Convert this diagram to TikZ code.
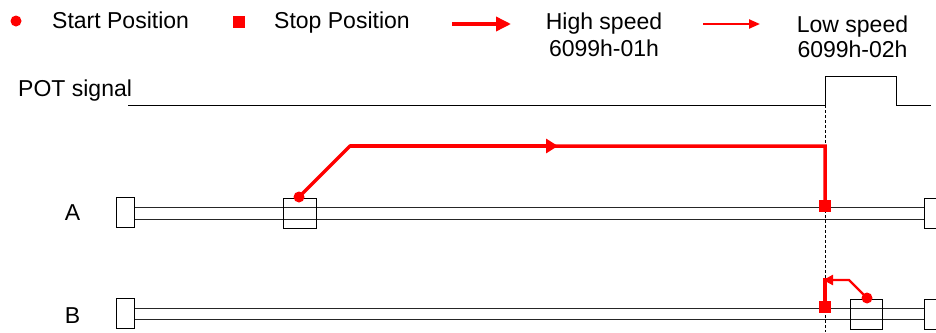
\documentclass[tikz,border=0pt]{standalone}
\usepackage{fontspec}
\setmainfont{Liberation Sans}
\usetikzlibrary{arrows.meta}
\definecolor{myred}{RGB}{255,0,0}
\begin{document}
\begin{tikzpicture}[x=1pt,y=-1pt,
  lbl/.style={font=\fontsize{23}{27.5}\selectfont, inner sep=0pt},
  endbox/.style={draw=black, line width=1pt, fill=white, minimum width=18pt, minimum height=30pt, inner sep=0pt},
  carbox/.style={draw=black, line width=1pt, minimum width=33pt, minimum height=30pt, inner sep=0pt},
  rail/.style={draw=black!85, line width=1pt},
  sig/.style={draw=black, line width=1pt},
  fast/.style={draw=myred, line width=3.5pt},
  slow/.style={draw=myred, line width=2.2pt},
  startdot/.style={circle, fill=myred, inner sep=0pt, minimum size=11pt},
  stopsq/.style={rectangle, fill=myred, inner sep=0pt, minimum size=12pt}]
\useasboundingbox (0,0) rectangle (936,332);

% legend
\node[startdot] (ldot) at (16,21) {};
\node[lbl, anchor=base west] (lstart) at (52,28.8) {Start Position};
\node[stopsq] (lsq) at (239,22) {};
\node[lbl, anchor=base west] (lstop) at (274,28.8) {Stop Position};
\coordinate (hs1) at (452,24); \coordinate (hs2) at (511,24);
\draw[fast, -{Triangle[length=15pt,width=14pt]}] (hs1) -- (hs2);
\node[lbl, align=center, anchor=north] (lhigh) at (604,12.3) {High speed\\6099h-01h};
\coordinate (ls1) at (703,24); \coordinate (ls2) at (760,24);
\draw[slow, -{Triangle[length=11pt,width=9pt]}] (ls1) -- (ls2);
\node[lbl, align=center, anchor=north] (llow) at (852.5,15.5) {Low speed\\[-2.5pt]6099h-02h};

% POT signal
\node[lbl, anchor=base west] (pot) at (18,96.5) {POT signal};
\coordinate (p0) at (128,105); \coordinate (p1) at (825,105);
\coordinate (p2) at (825,76); \coordinate (p3) at (896,76);
\coordinate (p4) at (896,105); \coordinate (p5) at (931,105);
\draw[sig] (p0) -- (p1) -- (p2) -- (p3) -- (p4) -- (p5);
\coordinate (dbot) at (825,332);
\draw[black, line width=0.8pt, dash pattern=on 3pt off 2pt] (p1) -- (dbot);

% labels
\node[lbl, anchor=base] (la) at (72.5,220) {A};
\node[lbl, anchor=base] (lb) at (72.5,323) {B};

% track A
\coordinate (ar1) at (0,207); \coordinate (ar2) at (0,219);
\node[endbox] (aL) at (125,212) {};
\node[endbox] (aR) at (933,213) {};
\draw[rail] (aL.east |- ar1) -- (aR.west |- ar1);
\draw[rail] (aL.east |- ar2) -- (aR.west |- ar2);
\node[carbox] (aC) at (299.5,213) {};

% track B
\coordinate (br1) at (0,308); \coordinate (br2) at (0,319.5);
\node[endbox] (bL) at (125,313) {};
\node[endbox] (bR) at (933,314) {};
\draw[rail] (bL.east |- br1) -- (bR.west |- br1);
\draw[rail] (bL.east |- br2) -- (bR.west |- br2);
\node[carbox, minimum width=32pt] (bC) at (866,314) {};

% red motion A
\node[startdot] (adot) at (299,197) {};
\node[stopsq] (asq) at (825,206) {};
\coordinate (ac1) at (350,146); \coordinate (ac2) at (825,146);
\coordinate (amid) at (558,146);
\draw[fast, line join=miter] (adot.center) -- (ac1) -- (ac2) -- (asq.center);
\draw[fast, -{Triangle[length=12pt,width=14pt]}] (ac1) -- (amid);

% red motion B
\node[startdot] (bdot) at (867,298) {};
\node[stopsq] (bsq) at (825,307) {};
\coordinate (bc1) at (849,280); \coordinate (bc2) at (823,280);
\coordinate (bv) at (825,278);
\draw[slow, -{Triangle[length=10pt,width=10pt]}] (bdot.center) -- (bc1) -- (bc2);
\draw[fast] (bv) -- (bsq.center);
\end{tikzpicture}
\end{document}
